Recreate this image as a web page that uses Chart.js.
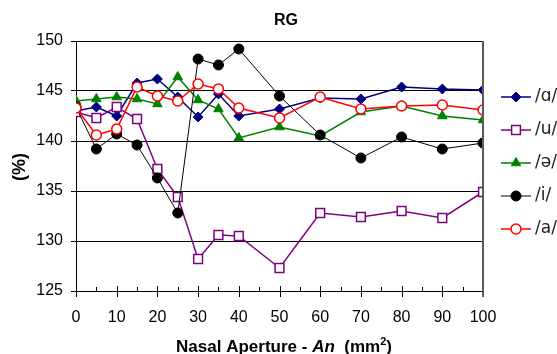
<!DOCTYPE html>
<html>
<head>
<meta charset="utf-8">
<script src="https://cdn.jsdelivr.net/npm/chart.js@4/dist/chart.umd.min.js"></script>
<style>
  html, body { margin: 0; padding: 0; background: #fff; overflow: hidden; }
  #wrap { width: 557px; height: 354px; }
</style>
</head>
<body>
<div id="wrap"><canvas id="c" width="557" height="354"></canvas></div>
<script>
// ---- data ----
const apertures = [0, 5, 10, 15, 20, 25, 30, 35, 40, 50, 60, 70, 80, 90, 100];
const seriesNames = ['/\u0251/', '/u/', '/\u0259/', '/i/', '/a/'];
const valsAlphaBack = [143.0, 143.4, 142.5, 145.8, 146.2, 144.4, 142.4, 144.7, 142.5, 143.2, 144.3, 144.2, 145.4, 145.2, 145.1];
const valsU        = [142.9, 142.3, 143.4, 142.2, 137.2, 134.4, 128.2, 130.6, 130.5, 127.3, 132.8, 132.4, 133.0, 132.3, 134.9];
const valsSchwa    = [144.0, 144.2, 144.4, 144.2, 143.7, 146.4, 144.1, 143.2, 140.3, 141.4, 140.5, 142.9, 143.5, 142.5, 142.1];
const valsI        = [143.4, 139.2, 140.7, 139.6, 136.3, 132.8, 148.2, 147.6, 149.2, 144.5, 140.6, 138.3, 140.4, 139.2, 139.8];
const valsA        = [143.3, 140.6, 141.2, 145.4, 144.5, 144.0, 145.7, 145.2, 143.3, 142.3, 144.4, 143.2, 143.5, 143.6, 143.1];
const yTicks = [125, 130, 135, 140, 145, 150];
const chartTitle = 'RG';
const yTitle = '(%)';
const xTitleParts = [['Nasal Aperture - ', 'bold'], ['An', 'italic bold'], ['  (mm', 'bold'], ['2', 'sup'], [')', 'bold']];

const styles = [
  { color: '#000080', fill: '#000080', shape: 'rectRot', r: 5, bw: 1, lw: 1.5 },
  { color: '#800080', fill: '#ffffff', shape: 'rect', r: 6.2, bw: 1.5, lw: 1.5 },
  { color: '#008000', fill: '#008000', shape: 'triangle', r: 5.5, bw: 1, lw: 1.5 },
  { color: '#000000', fill: '#000000', shape: 'circle', r: 5, bw: 1, lw: 1 },
  { color: '#ff0000', fill: '#ffffff', shape: 'circle', r: 5, bw: 1.5, lw: 1.5 }
];
const seriesValues = [valsAlphaBack, valsU, valsSchwa, valsI, valsA];

const datasets = seriesValues.map((vals, i) => ({
  label: seriesNames[i],
  data: apertures.map((x, j) => ({ x: x, y: vals[j] })),
  borderColor: styles[i].color,
  backgroundColor: styles[i].fill,
  borderWidth: styles[i].lw,
  pointStyle: styles[i].shape,
  pointRadius: styles[i].r,
  pointBorderWidth: styles[i].bw,
  pointBorderColor: styles[i].color,
  pointBackgroundColor: styles[i].fill,
  tension: 0,
  order: 5 - i
}));

function drawMarker(ctx, shape, x, y, r, fill, stroke, bw) {
  ctx.save();
  ctx.beginPath();
  if (shape === 'circle') {
    ctx.arc(x, y, r, 0, Math.PI * 2);
  } else if (shape === 'rect') {
    const s = r * Math.SQRT1_2;
    ctx.rect(x - s, y - s, 2 * s, 2 * s);
  } else if (shape === 'rectRot') {
    ctx.moveTo(x, y - r); ctx.lineTo(x + r, y); ctx.lineTo(x, y + r); ctx.lineTo(x - r, y); ctx.closePath();
  } else if (shape === 'triangle') {
    const a = -Math.PI / 2;
    ctx.moveTo(x + Math.cos(a) * r, y + Math.sin(a) * r);
    ctx.lineTo(x + Math.cos(a + 2 * Math.PI / 3) * r, y + Math.sin(a + 2 * Math.PI / 3) * r);
    ctx.lineTo(x + Math.cos(a + 4 * Math.PI / 3) * r, y + Math.sin(a + 4 * Math.PI / 3) * r);
    ctx.closePath();
  }
  ctx.fillStyle = fill; ctx.fill();
  ctx.lineWidth = bw; ctx.strokeStyle = stroke; ctx.stroke();
  ctx.restore();
}

const decor = {
  id: 'decor',
  afterDraw(chart) {
    const ctx = chart.ctx;
    const a = chart.chartArea;
    const xs = chart.scales.x;
    ctx.save();
    // x ticks (major cross the axis, minor inside)
    ctx.strokeStyle = '#000'; ctx.lineWidth = 1;
    xs.ticks.forEach(t => {
      const px = Math.round(xs.getPixelForValue(t.value)) + 0.5;
      ctx.beginPath();
      if (t.value % 10 === 0) { ctx.moveTo(px, a.bottom - 5); ctx.lineTo(px, a.bottom + 6); }
      else { ctx.moveTo(px, a.bottom - 4); ctx.lineTo(px, a.bottom); }
      ctx.stroke();
    });
    // right border
    ctx.strokeStyle = '#5a5a5a'; ctx.lineWidth = 2;
    ctx.beginPath(); ctx.moveTo(a.right, a.top); ctx.lineTo(a.right, a.bottom + 6); ctx.stroke();
    // title
    ctx.fillStyle = '#000';
    ctx.font = 'bold 16px "Liberation Sans", Arial, sans-serif';
    ctx.textAlign = 'center'; ctx.textBaseline = 'middle';
    ctx.fillText(chartTitle, 286, 21);
    // y title
    ctx.save();
    ctx.translate(20, 167); ctx.rotate(-Math.PI / 2);
    ctx.font = 'bold 18px "Liberation Sans", Arial, sans-serif';
    ctx.fillText(yTitle, 0, 0);
    ctx.restore();
    // x title with mixed styles
    const fonts = {
      'bold': 'bold 17px "Liberation Sans", Arial, sans-serif',
      'italic bold': 'italic bold 17px "Liberation Sans", Arial, sans-serif',
      'sup': 'bold 11px "Liberation Sans", Arial, sans-serif'
    };
    let total = 0;
    xTitleParts.forEach(p => { ctx.font = fonts[p[1]]; total += ctx.measureText(p[0]).width; });
    let cx = 284 - total / 2;
    const base = 352;
    ctx.textAlign = 'left'; ctx.textBaseline = 'alphabetic';
    xTitleParts.forEach(p => {
      ctx.font = fonts[p[1]];
      ctx.fillText(p[0], cx, p[1] === 'sup' ? base - 7 : base);
      cx += ctx.measureText(p[0]).width;
    });
    // legend
    ctx.font = '17px "DejaVu Sans", sans-serif';
    ctx.textBaseline = 'middle';
    seriesNames.forEach((name, i) => {
      const y = 97 + i * 33;
      const s = styles[i];
      ctx.strokeStyle = s.color; ctx.lineWidth = s.lw;
      ctx.beginPath(); ctx.moveTo(501, y); ctx.lineTo(531, y); ctx.stroke();
      drawMarker(ctx, s.shape, 516, y, s.r, s.fill, s.color, s.bw);
      ctx.fillStyle = '#222';
      ctx.fillText(name, 535, y);
    });
    ctx.restore();
  }
};

new Chart(document.getElementById('c'), {
  type: 'line',
  data: { datasets: datasets },
  options: {
    responsive: false,
    animation: false,
    layout: { padding: { top: 41, left: 0, right: 74, bottom: 0 } },
    plugins: { legend: { display: false }, title: { display: false }, tooltip: { enabled: false } },
    scales: {
      x: {
        type: 'linear', min: 0, max: 100,
        afterFit: s => { s.height = 63; },
        grid: { drawOnChartArea: false, drawTicks: false },
        border: { color: '#000', width: 1 },
        ticks: {
          stepSize: 5, autoSkip: false, maxRotation: 0, padding: 17,
          color: '#000', font: { family: '"Liberation Sans", Arial, sans-serif', size: 16 },
          callback: v => (v % 10 === 0 ? String(v) : '')
        }
      },
      y: {
        type: 'linear', min: yTicks[0], max: yTicks[yTicks.length - 1],
        afterFit: s => { s.width = 76; },
        afterBuildTicks: s => { s.ticks = yTicks.map(v => ({ value: v })); },
        grid: { color: '#000', lineWidth: 1, tickLength: 5 },
        border: { color: '#000', width: 1 },
        ticks: {
          padding: 8, color: '#000',
          font: { family: '"Liberation Sans", Arial, sans-serif', size: 16 }
        }
      }
    }
  },
  plugins: [decor]
});
</script>
</body>
</html>
